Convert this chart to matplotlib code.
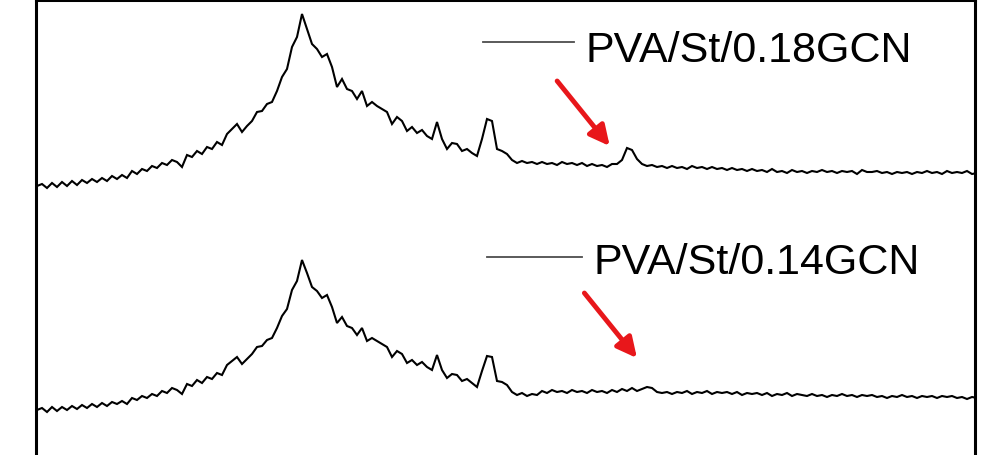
import matplotlib.pyplot as plt
import numpy as np

# XRD patterns (relative intensity, a.u.), sampled on a uniform 2-theta grid
gcn018 = [
    13, 15, 11, 16, 12, 17, 13, 18, 14, 19, 16, 20, 17, 21, 18, 23, 20, 24, 21, 28,
    25, 30, 28, 33, 31, 36, 34, 39, 37, 32, 44, 42, 48, 45, 52, 50, 57, 54, 65, 70,
    75, 67, 73, 78, 87, 88, 95, 97, 108, 122, 130, 152, 162, 185, 170, 155, 150, 142, 145, 132,
    112, 120, 110, 108, 100, 108, 93, 97, 93, 90, 87, 75, 82, 78, 68, 72, 66, 69, 63, 60,
    77, 60, 50, 56, 55, 48, 50, 46, 43, 60, 80, 78, 50, 48, 45, 39, 36, 38, 36, 37,
    35, 37, 35, 36, 34, 37, 35, 36, 34, 36, 33, 35, 33, 34, 32, 35, 35, 39, 51, 49,
    40, 35, 33, 34, 32, 33, 31, 33, 31, 32, 30, 33, 31, 32, 30, 32, 30, 31, 29, 31,
    29, 30, 28, 30, 28, 29, 27, 30, 27, 28, 26, 29, 27, 28, 26, 28, 27, 29, 27, 28,
    26, 28, 27, 28, 25, 29, 27, 27, 28, 26, 27, 25, 27, 26, 27, 25, 27, 26, 28, 26,
    27, 25, 28, 26, 27, 26, 28, 25, 26,
]
gcn014 = [
    13, 15, 11, 16, 12, 16, 13, 17, 14, 18, 15, 19, 16, 20, 17, 21, 19, 22, 19, 25,
    23, 27, 25, 29, 27, 32, 30, 35, 33, 29, 39, 37, 43, 40, 46, 44, 50, 48, 58, 62,
    66, 59, 64, 69, 76, 77, 83, 85, 95, 107, 114, 133, 142, 163, 150, 136, 132, 125, 128, 116,
    100, 106, 97, 95, 88, 95, 82, 85, 82, 79, 76, 66, 72, 69, 60, 63, 58, 61, 56, 53,
    68, 53, 45, 49, 48, 42, 44, 40, 36, 52, 67, 66, 42, 41, 38, 31, 28, 30, 27, 29,
    28, 32, 30, 33, 31, 32, 30, 33, 31, 32, 30, 33, 31, 32, 30, 33, 31, 34, 32, 35,
    32, 34, 36, 35, 31, 30, 31, 29, 31, 30, 32, 29, 31, 30, 32, 29, 31, 30, 31, 29,
    31, 28, 30, 29, 30, 28, 30, 27, 29, 28, 30, 27, 29, 28, 27, 29, 27, 28, 26, 28,
    27, 29, 27, 28, 26, 28, 27, 28, 26, 27, 25, 27, 26, 28, 26, 27, 25, 27, 26, 27,
    25, 27, 26, 27, 25, 26, 24, 26, 25,
]
labels = ["PVA/St/0.18GCN", "PVA/St/0.14GCN"]

two_theta = np.linspace(5, 80, len(gcn018))


def main():
    plt.rcParams["font.family"] = ["Liberation Sans", "DejaVu Sans"]

    fig = plt.figure(figsize=(9.99, 4.56), dpi=100)
    ax = fig.add_axes([36 / 999, 0, 939 / 999, 455 / 456])

    offsets = [256, 32]
    for data, off in zip([gcn018, gcn014], offsets):
        ax.plot(two_theta, np.array(data) + off, color="black", lw=1.5,
                solid_joinstyle="miter")

    step = 75 / 940
    ax.set_xlim(5 - step, 5 + 938 * step)
    ax.set_ylim(0, 455)
    ax.set_xticks([])
    ax.set_yticks([])
    for side in ["left", "right", "top"]:
        ax.spines[side].set_linewidth(2.2)
    ax.spines["bottom"].set_visible(False)

    # legend-style labels
    legend_pos = [(0.476, 0.573, 0.908, 0.585, 0.866),
                  (0.480, 0.581, 0.435, 0.594, 0.400)]
    for (x0, x1, yl, xt, yt), text in zip(legend_pos, labels):
        ax.plot([x0, x1], [yl, yl], color="#4d4d4d", lw=1.3,
                transform=ax.transAxes)
        ax.text(xt, yt, text, transform=ax.transAxes, fontsize=31,
                va="baseline", ha="left", color="black")

    # red arrows pointing at the GCN reflection
    arrows = [((0.555, 0.822), (0.611, 0.679)),
              ((0.584, 0.356), (0.640, 0.213))]
    for start, end in arrows:
        ax.annotate("", xy=end, xytext=start, xycoords="axes fraction",
                    textcoords="axes fraction",
                    arrowprops=dict(arrowstyle="-|>", color="#e8171b",
                                    lw=3.5, mutation_scale=30,
                                    shrinkA=0, shrinkB=0))

    fig.savefig("out.png", dpi=100)
    plt.close(fig)


if __name__ == "__main__":
    main()
